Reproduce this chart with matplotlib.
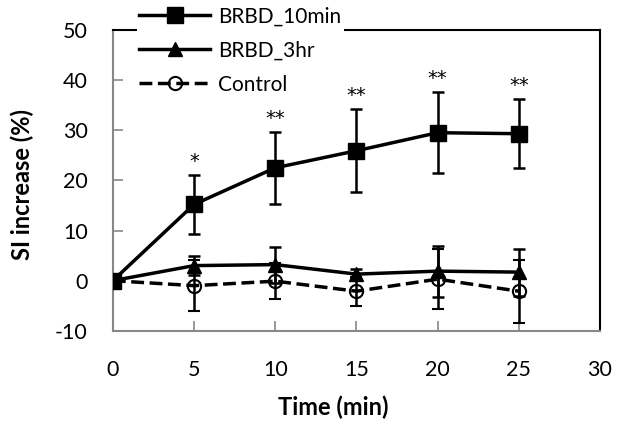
import matplotlib
matplotlib.use("Agg")
import matplotlib.pyplot as plt
from matplotlib.lines import Line2D

plt.rcParams['font.family'] = ['Lato', 'DejaVu Sans']
plt.rcParams['axes.unicode_minus'] = False

time = [0, 5, 10, 15, 20, 25]

brbd_10min = [0, 15.2, 22.5, 25.9, 29.5, 29.3]
brbd_10min_err = [0, 5.8, 7.2, 8.3, 8.1, 6.9]

brbd_3hr = [0, 3.0, 3.2, 1.3, 1.9, 1.7]
brbd_3hr_err = [0, 1.9, 3.6, 1.0, 5.1, 4.7]

control = [0, -1.0, -0.1, -2.1, 0.3, -2.1]
control_err = [0, 5.1, 3.6, 2.9, 6.0, 6.3]

stars = ["", "*", "**", "**", "**", "**"]

fig = plt.figure(figsize=(6.27, 4.33), dpi=100)
ax = fig.add_axes([0.18, 0.236, 0.777, 0.695])

ax.errorbar(time, control, yerr=control_err, color='black', lw=2.5, ls='--',
            marker='o', ms=9.5, mfc='none', mec='black', mew=1.5,
            ecolor='black', elinewidth=1.8, capsize=4.5, capthick=1.8,
            zorder=5)
ax.errorbar(time, brbd_3hr, yerr=brbd_3hr_err, color='black', lw=2.5,
            marker='^', ms=10, ecolor='black', elinewidth=1.8, capsize=4.5,
            capthick=1.8, zorder=6)
ax.errorbar(time, brbd_10min, yerr=brbd_10min_err, color='black', lw=2.5,
            marker='s', ms=11, ecolor='black', elinewidth=1.8, capsize=4.5,
            capthick=1.8, zorder=7)

for t, v, e, s in zip(time, brbd_10min, brbd_10min_err, stars):
    if s:
        ax.text(t, v + e + 0.8, s, ha='center', va='bottom', fontsize=14,
                family='DejaVu Sans', zorder=10)

ax.set_xlim(0, 30)
ax.set_ylim(-10, 50)
ax.set_xticks(range(0, 31, 5))
ax.set_yticks(range(-10, 51, 10))
ax.tick_params(direction='in', length=7, width=1.2, color='#888888',
               labelsize=15.5)
ax.tick_params(axis='y', pad=18)
ax.tick_params(axis='x', pad=21)

for side in ['left', 'bottom']:
    ax.spines[side].set_color('#888888')
    ax.spines[side].set_linewidth(1.5)
for side in ['top', 'right']:
    ax.spines[side].set_color('black')
    ax.spines[side].set_linewidth(1.5)

ax.set_xlabel('Time (min)', fontsize=17, fontweight='bold')
ax.set_ylabel('SI increase (%)', fontsize=17, fontweight='bold')
ax.xaxis.set_label_coords(0.452, -0.215)
ax.yaxis.set_label_coords(-0.162, 0.485)

handles = [
    Line2D([], [], color='black', lw=2.5, marker='s', ms=11),
    Line2D([], [], color='black', lw=2.5, marker='^', ms=10),
    Line2D([], [], color='black', lw=2.5, ls='--', marker='o', ms=9.5,
           mfc='none', mew=1.5),
]
labels = ['BRBD_10min', 'BRBD_3hr', 'Control']
leg = ax.legend(handles, labels, loc='upper left',
                bbox_to_anchor=(0.05, 1.085), fontsize=15, frameon=True,
                facecolor='white', edgecolor='white', framealpha=1,
                handlelength=3.4, borderpad=0.1, labelspacing=0.68,
                handletextpad=0.4, borderaxespad=0)
leg.get_frame().set_linewidth(0)
leg.set_zorder(4)

fig.savefig('out.png', dpi=100)
